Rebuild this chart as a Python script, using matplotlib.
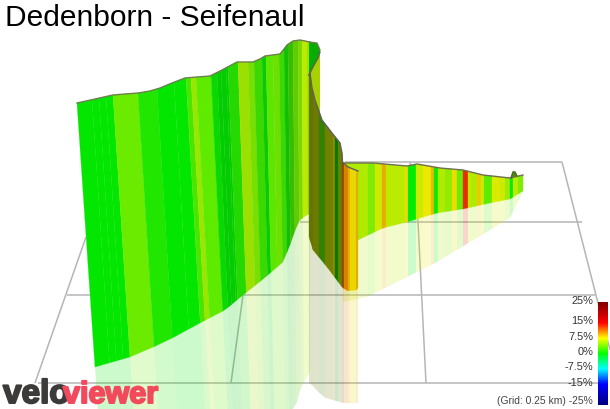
#!/usr/bin/env python3
"""3D gradient profile Dedenborn - Seifenaul, drawn in picture coordinates."""
import numpy as np
import matplotlib
matplotlib.use('Agg')
import matplotlib.pyplot as plt
import matplotlib.patheffects as pe
from matplotlib.colors import LinearSegmentedColormap, Normalize

TITLE = "Dedenborn - Seifenaul"
GRADE_LABELS = ["25%", "15%", "7.5%", "0%", "-7.5%", "-15%"]
GRADE_LABEL_Y = [301, 321, 337, 352, 367, 383]
GRID_NOTE = "(Grid: 0.25 km) -25%"

# main wall: band edges along the top, band grades, profile lines
wall_edges = [77, 92, 99, 106, 113, 138, 157, 174, 186, 191, 196, 211, 217, 221, 226,
              228, 238, 248, 254, 262, 266, 273, 279, 284, 288, 293, 298, 302, 307, 310]
wall_grades = [0, 0, 0, 0, 3.5, 1, 0, 0, 2.5, 5, 3, 0.2, 0, 0, 0,
               1.2, 5.2, 4, 2, 0.3, 3, 3.6, 2, 0.6, 2, 3.6, 4.2, 6, 5]
wall_shades = [0.9, 0.9, 0.9, 0.9, 0.92, 0.9, 0.9, 0.9, 0.9, 0.9, 0.92, 0.85, 0.8, 0.8, 0.8,
               0.85, 0.88, 0.88, 0.85, 0.8, 0.9, 0.88, 0.85, 0.75, 0.75, 0.8, 0.85, 0.92, 0.9]
wall_top_x = [77, 95, 113, 125, 138, 150, 160, 172, 185, 197, 210, 222, 237, 253, 260, 265, 280, 284, 287, 293, 300, 310]
wall_top_y = [103, 99, 95, 94, 93, 91, 88, 83, 78, 77, 76, 70, 62, 62, 59, 56, 54, 49, 45, 41, 40, 42]
wall_bot_x = [95, 130, 165, 200, 225, 243, 262, 283, 290, 298, 306, 310]
wall_bot_y = [367, 357, 342, 323, 310, 295, 280, 262, 245, 222, 215, 214]
# how far a band leans between its top and its foot
lean_x = [77, 113, 193, 240, 310]
lean_dx = [18, 17, 14, 8, 0]

# green cap at the summit and the yellow back side of the bend
cap_x = [309, 317, 320]
cap_top_y = [42, 43, 50]
cap_low_x = [309, 313, 318, 320]
cap_low_y = [75, 67, 58, 52]
back_bot_y = [122, 122, 122, 122]

# near wall of the hairpin
near_edges = [309, 313, 319, 325, 328, 333, 335, 338, 342, 344, 348, 350, 356, 358]
near_grades = [6.5, 6.5, 3, 6.5, 7, 7.5, 0.3, 6, 11, 10.5, 9.2, 8.2, 9]
near_shades = [0.45, 0.48, 0.5, 0.5, 0.5, 0.55, 0.47, 0.5, 0.55, 0.85, 0.9, 0.92, 0.88]
near_top_x = [309, 310, 312, 315, 322, 332, 340, 342, 342.5, 348, 358]
near_top_y = [75, 73, 88, 100, 120, 133, 143, 153, 162, 167, 171]
near_bot_x = [309, 313, 327, 342, 347, 357, 358]
near_bot_y = [237, 250, 267, 287, 291, 290, 288]

# far section to the finish
far_edges = [343, 358, 368, 375, 382, 386, 392, 405, 408, 416, 423, 431, 434, 438, 445, 452,
             457, 463, 468, 471, 477, 481, 484, 492, 500, 505, 510, 513, 518, 523]
far_grades = [5.5, 5.5, 4, 6.5, 9.5, 6, 6, 8, 0, 6.5, 7.5, 9, 0.3, 5.5, 4.5,
              8, 3.5, 13.5, 6, 5.5, 8.5, 6.5, 3, 7, 6.5, 5, 0, 6, 4]
far_top_x = [343, 373, 407, 417, 440, 463, 483, 510, 523]
far_top_y = [163, 163, 166, 164, 168, 170, 175, 178, 175]
far_bot_x = [343, 358, 383, 407, 437, 463, 490, 510, 523]
far_bot_y = [248, 240, 228, 222, 213, 209, 203, 199, 191]
far_refl_x = [343, 367, 407, 437, 460, 490, 510, 523]
far_refl_y = [302, 297, 277, 262, 248, 230, 218, 191]
tip_x = [511, 513, 515, 517]
tip_y = [178, 172, 172, 176]

# reflection outlines
wall_refl_x = [96, 99, 293, 300, 310]
wall_refl_y = [430, 430, 409, 387, 372]
near_refl_x = [309, 312, 323, 343, 358]
near_refl_y = [383, 385, 397, 403, 403]

# grid lines
grid_lines_x = [[345, 562], [300, 582], [67, 93], [243, 595], [38, 598],
                [562, 610], [86, 35], [243, 231], [410, 418], [418, 426]]
grid_lines_y = [[162, 162], [222, 222], [295, 295], [295, 295], [383, 383],
                [162, 350], [237, 383], [295, 383], [162, 222], [222, 383]]

cmap = LinearSegmentedColormap.from_list("grade", [
    (0.0, "#000080"), (0.2, "#0000ff"), (0.35, "#00ffff"), (0.5, "#00ff00"),
    (0.65, "#ffff00"), (0.8, "#ff0000"), (1.0, "#800000")])
norm = Normalize(-25, 25)


def band_colour(grade, shade=0.92):
    r, g, b, _ = cmap(norm(grade))
    return (r * shade, g * shade, b * shade)


def draw_bands(ax, edges, grades, shades, top, bottom, lean=None, refl=None, refl_alpha=0.2, zorder=3):
    edges = np.array(edges, dtype=float)
    foot = edges if lean is None else edges + np.interp(edges, lean[0], lean[1])
    for i, grade in enumerate(grades):
        x0, x1 = edges[i], edges[i + 1]
        f0, f1 = foot[i], foot[i + 1]
        colour = band_colour(grade, shades[i] if shades is not None else 0.92)
        # follow the read profile inside a wide band instead of cutting the corners
        inner = [p for p in top[0] if x0 < p < x1]
        tx = [x0] + inner + [x1]
        ty = list(np.interp(tx, *top))
        b0, b1 = np.interp(f0, *bottom), np.interp(f1, *bottom)
        if refl is not None:
            r0, r1 = np.interp(f0, *refl), np.interp(f1, *refl)
            # reflection keeps leaning the same way
            k0 = (r0 - b0) / max(b0 - ty[0], 1)
            k1 = (r1 - b1) / max(b1 - ty[-1], 1)
            ax.fill([f0, f1, f1 + (f1 - x1) * k1, f0 + (f0 - x0) * k0], [b0, b1, r1, r0],
                    color=colour, alpha=refl_alpha, lw=0, zorder=2)
        ax.fill(tx + [f1, f0], ty + [b1, b0], color=colour, lw=0.2, zorder=zorder)


fig = plt.figure(figsize=(6.1, 4.09), dpi=100)
ax = fig.add_axes([0, 0, 1, 1])
ax.set_xlim(0, 610)
ax.set_ylim(409, 0)
ax.axis("off")

for gx, gy in zip(grid_lines_x, grid_lines_y):
    ax.plot(gx, gy, color="#b5b5b5", lw=1.1, zorder=1, solid_capstyle="butt")

# far section goes first, it is behind everything else
draw_bands(ax, far_edges, far_grades, None, (far_top_x, far_top_y), (far_bot_x, far_bot_y),
           refl=(far_refl_x, far_refl_y))
ax.fill(tip_x, tip_y, color="#4f8a10", lw=0.5, zorder=3)
ax.plot(far_top_x, far_top_y, color="#707050", lw=1.0, zorder=4)
ax.plot(tip_x, tip_y, color="#4a6a20", lw=1.0, zorder=4)

# main wall
draw_bands(ax, wall_edges, wall_grades, wall_shades, (wall_top_x, wall_top_y), (wall_bot_x, wall_bot_y),
           lean=(lean_x, lean_dx), refl=(wall_refl_x, wall_refl_y))
ax.plot(wall_top_x, wall_top_y, color="#6f7f50", lw=1.0, zorder=4)

# summit bend
ax.fill(cap_low_x + cap_low_x[::-1], cap_low_y + back_bot_y, color=band_colour(6, 0.82), lw=0, zorder=3)
ax.fill(cap_x + cap_low_x[::-1], cap_top_y + cap_low_y[::-1], color=band_colour(0.3, 0.68), lw=0, zorder=3)
ax.plot(cap_x, cap_top_y, color="#6f7f50", lw=1.0, zorder=4)
ax.plot(cap_low_x, cap_low_y, color="#606060", lw=1.0, zorder=6)

# near wall
draw_bands(ax, near_edges, near_grades, near_shades, (near_top_x, near_top_y), (near_bot_x, near_bot_y),
           refl=(near_refl_x, near_refl_y), zorder=5)
ax.plot(near_top_x, near_top_y, color="#606060", lw=1.0, zorder=6)

# grade scale
ramp = np.linspace(1, 0, 200).reshape(-1, 1)
ax.imshow(ramp, cmap=cmap, extent=(598, 608, 405, 302), aspect="auto", zorder=7)
ax.set_xlim(0, 610)
ax.set_ylim(409, 0)
for label, y in zip(GRADE_LABELS, GRADE_LABEL_Y):
    ax.text(593, y, label, ha="right", va="center", fontsize=7.9, color="#333333",
            family="Liberation Sans", zorder=8)
ax.text(593, 401, GRID_NOTE, ha="right", va="center", fontsize=7.4, color="#444444",
        family="Liberation Sans", zorder=8)

ax.text(5, 18, TITLE, ha="left", va="center", fontsize=21.5, color="black",
        family="Liberation Sans", zorder=8)

logo_dark = [pe.withStroke(linewidth=1.4, foreground="#3d3a3a")]
ax.text(3, 403, "velo", ha="left", va="baseline", fontsize=24, fontweight="bold", color="#3d3a3a",
        family="Liberation Sans", path_effects=logo_dark, zorder=8)
logo_red = [pe.withStroke(linewidth=1.4, foreground="#f24a5c")]
ax.text(158, 403, "viewer", ha="right", va="baseline", fontsize=22, fontweight="bold", color="#f24a5c",
        family="Liberation Sans", path_effects=logo_red, zorder=9)

fig.savefig("out.png", dpi=100)
